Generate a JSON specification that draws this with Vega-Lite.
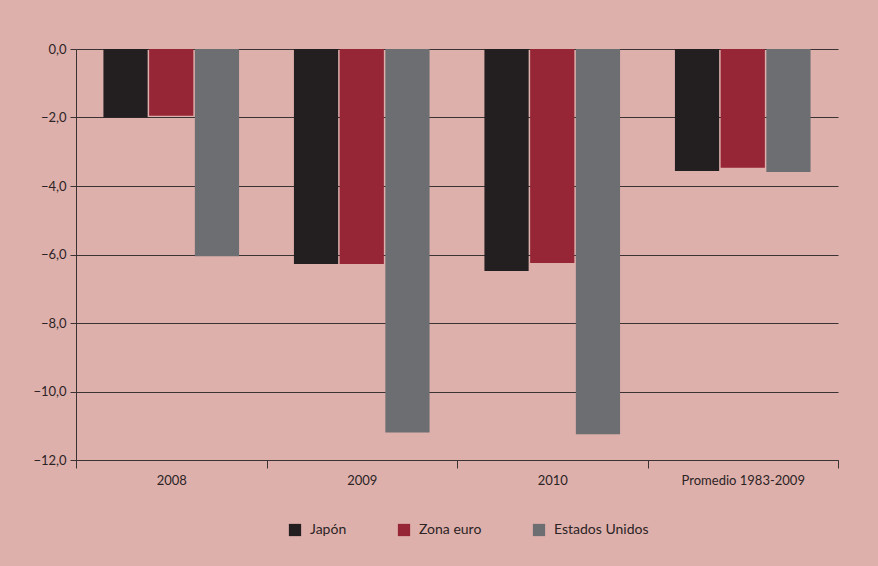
{
  "$schema": "https://vega.github.io/schema/vega-lite/v6.json",
  "width": 762,
  "height": 411,
  "autosize": "none",
  "padding": {"left": 76, "top": 49, "right": 40, "bottom": 106},
  "background": "#DEB0AC",
  "config": {
    "view": {"stroke": null},
    "font": "Lato",
    "axis": {"labelFont": "Lato", "labelColor": "#2b2324", "labelFontSize": 13},
    "legend": {"labelFont": "Lato", "labelColor": "#2b2324", "labelFontSize": 14}
  },
  "data": {
    "values": [
      {"periodo": "2008", "region": "Japón", "valor": -2.0},
      {"periodo": "2008", "region": "Zona euro", "valor": -1.95},
      {"periodo": "2008", "region": "Estados Unidos", "valor": -6.05},
      {"periodo": "2009", "region": "Japón", "valor": -6.28},
      {"periodo": "2009", "region": "Zona euro", "valor": -6.28},
      {"periodo": "2009", "region": "Estados Unidos", "valor": -11.2},
      {"periodo": "2010", "region": "Japón", "valor": -6.48},
      {"periodo": "2010", "region": "Zona euro", "valor": -6.25},
      {"periodo": "2010", "region": "Estados Unidos", "valor": -11.25},
      {"periodo": "Promedio 1983-2009", "region": "Japón", "valor": -3.56},
      {"periodo": "Promedio 1983-2009", "region": "Zona euro", "valor": -3.47},
      {"periodo": "Promedio 1983-2009", "region": "Estados Unidos", "valor": -3.59}
    ]
  },
  "mark": {"type": "bar"},
  "encoding": {
    "x": {
      "field": "periodo",
      "type": "nominal",
      "sort": null,
      "scale": {"paddingInner": 0, "paddingOuter": 0},
      "axis": {
        "title": null,
        "labelAngle": 0,
        "tickBand": "extent",
        "tickSize": 8,
        "tickColor": "#3a3233",
        "domainColor": "#3a3233",
        "labelPadding": 6
      }
    },
    "xOffset": {
      "field": "region",
      "type": "nominal",
      "sort": ["Japón", "Zona euro", "Estados Unidos"],
      "scale": {"paddingInner": 0.033, "paddingOuter": 0.6}
    },
    "y": {
      "field": "valor",
      "type": "quantitative",
      "scale": {"domain": [-12, 0], "nice": false},
      "axis": {
        "title": null,
        "values": [0, -2, -4, -6, -8, -10, -12],
        "labelExpr": "replace(format(datum.value, '.1f'), '.', ',')",
        "tickSize": 6,
        "tickColor": "#3a3233",
        "domainColor": "#3a3233",
        "gridColor": "#3a3233",
        "gridOpacity": 1,
        "labelPadding": 4
      }
    },
    "color": {
      "field": "region",
      "type": "nominal",
      "sort": ["Japón", "Zona euro", "Estados Unidos"],
      "scale": {"domain": ["Japón", "Zona euro", "Estados Unidos"], "range": ["#231F20", "#962535", "#6D6E71"]},
      "legend": {
        "title": null,
        "orient": "none",
        "direction": "horizontal",
        "legendX": 212,
        "legendY": 474,
        "symbolType": "square",
        "symbolSize": 150,
        "symbolOpacity": 1,
        "columnPadding": 50,
        "labelOffset": 8
      }
    }
  }
}
